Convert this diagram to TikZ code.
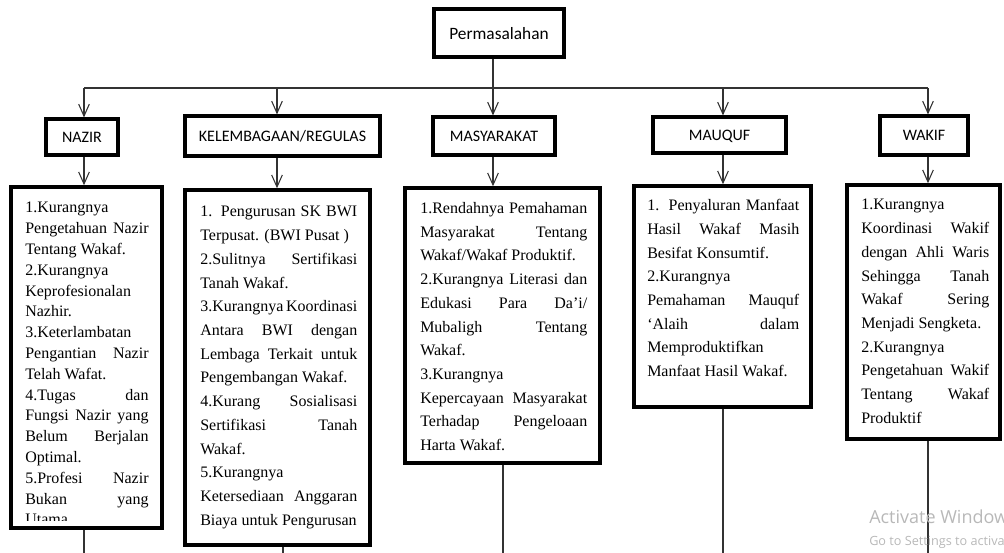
\documentclass[tikz,border=0pt]{standalone}
\usepackage{fontspec}
\setmainfont{Liberation Serif}
\newfontfamily\calibfont{Carlito}
\newfontfamily\winfont{Open Sans}
\usetikzlibrary{arrows.meta,fit}

\begin{document}
\begin{tikzpicture}[x=0.75pt,y=-0.75pt,
  head/.style={draw,line width=2.4pt,inner sep=0pt},
  headtext/.style={inner sep=0pt,text depth=0pt,font=\calibfont\fontsize{12}{14}\selectfont},
  panel/.style={draw,line width=2.6pt,inner sep=0pt},
  itemtext/.style={anchor=north west,inner sep=0pt,align=justify,
    font=\fontsize{12}{17.8}\selectfont,
    execute at begin node={\parindent0pt\parskip0pt\tolerance10000\hyphenpenalty10000}},
  link/.style={draw=black!80,line width=0.8pt},
  arr/.style={link,-{Straight Barb[length=9pt,width=8pt]}}]
\useasboundingbox (0,0) rectangle (1004,553);

\node[head,fit={(434,9) (564,57)}] (perm) {};
\node[headtext,font=\calibfont\fontsize{13}{15}\selectfont] (permlabel) at (perm.center) {Permasalahan};

\node[head,fit={(46,119) (118,155)}] (nazir) {};
\node[head,fit={(185,116) (380,156)}] (lembaga) {};
\node[head,fit={(433,117) (555,155)}] (masy) {};
\node[head,fit={(653,117) (786,153)}] (mauquf) {};
\node[head,fit={(880,116) (968,155)}] (wakif) {};
\foreach \n/\t in {nazir/NAZIR,lembaga/KELEMBAGAAN\slash REGULAS,masy/MASYARAKAT,mauquf/MAUQUF,wakif/WAKIF}{
\node[headtext] (\n label) at (\n.center) {\t};
}

\node[panel,fit={(11,187) (162,528)}] (nazir2) {};
\node[panel,fit={(185,190) (370,545)}] (lembaga2) {};
\node[panel,fit={(405,188) (600,463)}] (masy2) {};
\node[panel,fit={(634,186) (811,407)}] (mauquf2) {};
\node[panel,fit={(847,185) (1000,439)}] (wakif2) {};

% bus and drops
\coordinate (cnazir) at (84,88);
\coordinate (clembaga) at (277,88);
\coordinate (cmasy) at (493,88);
\coordinate (cmauquf) at (723,88);
\coordinate (cwakif) at (928,88);
\draw[link] (cnazir) -- (cwakif);
\draw[link] (perm.south -| cmasy) -- (cmasy);
\foreach \n in {nazir,lembaga,masy,mauquf,wakif}{
\draw[arr] (c\n) -- (c\n |- \n.north);
\draw[arr] (\n.south -| c\n) -- (c\n |- \n2.north);
}
\foreach \n/\x in {nazir/84,lembaga/283,masy/503,mauquf/723,wakif/928}{
\coordinate (b\n) at (\x,553);
\draw[link] (b\n |- \n2.south) -- (b\n);
}

\begin{scope}
\clip (12,188) rectangle (161,520);
\node[itemtext,text width=92.5pt,font=\fontsize{12}{15.6}\selectfont] (nazirtext) at (25,202) {%
1.Kurangnya\linebreak Pengetahuan Nazir\linebreak Tentang Wakaf.\par
2.Kurangnya\linebreak Keprofesionalan\linebreak Nazhir.\par
3.Keterlambatan\linebreak Pengantian Nazir\linebreak Telah Wafat.\par
4.Tugas dan\linebreak Fungsi Nazir yang\linebreak Belum Berjalan\linebreak Optimal.\par
5.Profesi Nazir\linebreak Bukan yang\linebreak Utama.};
\end{scope}

\node[itemtext,text width=117.75pt] (lembagatext) at (200,206) {%
1. Pengurusan SK BWI\linebreak Terpusat. (BWI Pusat )\par
2.Sulitnya Sertifikasi\linebreak Tanah Wakaf.\par
3.Kurangnya Koordinasi\linebreak Antara BWI dengan\linebreak Lembaga Terkait untuk\linebreak Pengembangan Wakaf.\par
4.Kurang Sosialisasi\linebreak Sertifikasi Tanah\linebreak Wakaf.\par
5.Kurangnya\linebreak Ketersediaan Anggaran\linebreak Biaya untuk Pengurusan};

\node[itemtext,text width=125.25pt] (masytext) at (420,202) {%
1.Rendahnya Pemahaman\linebreak Masyarakat Tentang\linebreak Wakaf/Wakaf Produktif.\par
2.Kurangnya Literasi dan\linebreak Edukasi Para Da’i/\linebreak Mubaligh Tentang\linebreak Wakaf.\par
3.Kurangnya\linebreak Kepercayaan Masyarakat\linebreak Terhadap Pengeloaan\linebreak Harta Wakaf.};

\node[itemtext,text width=114pt] (mauquftext) at (647,199) {%
1. Penyaluran Manfaat\linebreak Hasil Wakaf Masih\linebreak Besifat Konsumtif.\par
2.Kurangnya\linebreak Pemahaman Mauquf\linebreak ‘Alaih dalam\linebreak Memproduktifkan\linebreak Manfaat Hasil Wakaf.};

\node[itemtext,text width=96pt] (wakiftext) at (861,199) {%
1.Kurangnya\linebreak Koordinasi Wakif\linebreak dengan Ahli Waris\linebreak Sehingga Tanah\linebreak Wakaf Sering\linebreak Menjadi Sengketa.\par
2.Kurangnya\linebreak Pengetahuan Wakif\linebreak Tentang Wakaf\linebreak Produktif};

% watermark
\node[anchor=base west,inner sep=0pt,text=black!28,font=\winfont\fontsize{13.5}{15}\selectfont] (wm1) at (869,523) {Activate Windows};
\node[anchor=base west,inner sep=0pt,text=black!28,font=\winfont\fontsize{9.5}{11}\selectfont] (wm2) at (869,545) {Go to Settings to activate Windows.};
\end{tikzpicture}
\end{document}
